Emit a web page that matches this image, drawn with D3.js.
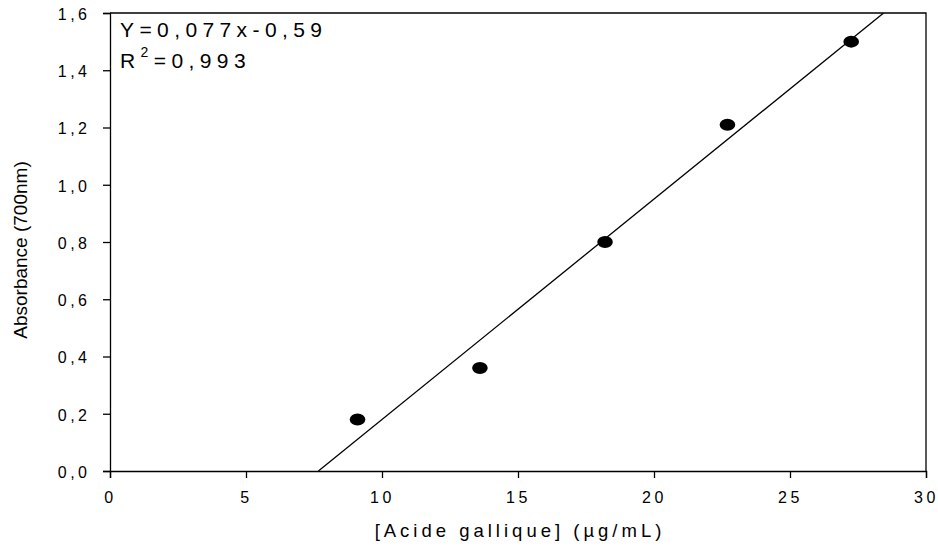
<!DOCTYPE html>
<html>
<head>
<meta charset="utf-8">
<script src="https://cdn.jsdelivr.net/npm/d3@7"></script>
<style>
  body { margin: 0; background: #fff; }
  text { font-family: "Liberation Sans", Arial, sans-serif; fill: #000; }
</style>
</head>
<body>
<svg width="938" height="552"></svg>
<script>
// data
var concentrations = [9.1, 13.6, 18.2, 22.7, 27.25];
var absorbances = [0.18, 0.36, 0.80, 1.21, 1.50];
var slope = 0.077, intercept = -0.59;
var xTicks = [0, 5, 10, 15, 20, 25, 30];
var yTicks = [0, 0.2, 0.4, 0.6, 0.8, 1.0, 1.2, 1.4, 1.6];

var margin = { left: 110, top: 13, right: 12, bottom: 81 };
var width = 938, height = 552;
var spacing = 3.5; // wide letter spacing of the original export

var svg = d3.select('svg');

var x = d3.scaleLinear().domain([0, 30]).range([margin.left, width - margin.right]);
var y = d3.scaleLinear().domain([0, 1.6]).range([height - margin.bottom, margin.top]);

var comma = function (d) { return d3.format('.1f')(d).replace('.', ','); };

// frame (top + right)
svg.append('path')
    .attr('d', 'M' + x(0) + ',' + y(1.6) + 'H' + x(30) + 'V' + y(0))
    .attr('fill', 'none')
    .attr('stroke', '#000')
    .attr('stroke-width', 1.3);

// x axis
var xAxis = svg.append('g')
    .attr('transform', 'translate(0,' + y(0) + ')')
    .call(d3.axisBottom(x).tickValues(xTicks).tickSize(7).tickPadding(14).tickFormat(d3.format('d')));

// y axis
var yAxis = svg.append('g')
    .attr('transform', 'translate(' + x(0) + ',0)')
    .call(d3.axisLeft(y).tickValues(yTicks).tickSize(7).tickPadding(16).tickFormat(comma));

[xAxis, yAxis].forEach(function (g) {
    g.select('.domain').attr('stroke', '#000').attr('stroke-width', 1.3);
    g.selectAll('.tick line').attr('stroke', '#000').attr('stroke-width', 1.3);
    g.selectAll('.tick text')
        .style('font-family', '"Liberation Sans", Arial, sans-serif')
        .style('font-size', '16px')
        .style('letter-spacing', spacing + 'px')
        .attr('fill', '#000');
});
yAxis.selectAll('.tick text').attr('dx', spacing).attr('dy', '0.4em');

// regression line, clipped to the plot area
svg.append('clipPath').attr('id', 'plot')
    .append('rect')
    .attr('x', x(0)).attr('y', y(1.6))
    .attr('width', x(30) - x(0)).attr('height', y(0) - y(1.6));

var x0 = -intercept / slope, x1 = (1.6 - intercept) / slope;
svg.append('line')
    .attr('clip-path', 'url(#plot)')
    .attr('x1', x(x0)).attr('y1', y(slope * x0 + intercept))
    .attr('x2', x(x1)).attr('y2', y(slope * x1 + intercept))
    .attr('stroke', '#000')
    .attr('stroke-width', 1.3);

// points
svg.selectAll('ellipse.pt')
    .data(concentrations)
    .enter()
    .append('ellipse')
    .attr('class', 'pt')
    .attr('cx', function (d) { return x(d); })
    .attr('cy', function (d, i) { return y(absorbances[i]); })
    .attr('rx', 7.8)
    .attr('ry', 6)
    .attr('fill', '#000');

// equation
svg.append('text')
    .attr('x', 120).attr('y', 37)
    .style('font-size', '21px')
    .style('letter-spacing', '5.4px')
    .text('Y=0,077x-0,59');

var r2 = svg.append('text')
    .attr('x', 120).attr('y', 68)
    .style('font-size', '21px')
    .style('letter-spacing', '5.4px');
r2.append('tspan').text('R');
r2.append('tspan').attr('dy', -11).style('font-size', '14px').text('2');
r2.append('tspan').attr('dy', 11).text('=0,993');

// axis titles
svg.append('text')
    .attr('x', (x(0) + x(30)) / 2 + 2).attr('y', 537)
    .attr('text-anchor', 'middle')
    .style('font-size', '18.5px')
    .style('letter-spacing', '4px')
    .text('[Acide gallique] (µg/mL)');

svg.append('text')
    .attr('transform', 'translate(27,250) rotate(-90)')
    .attr('text-anchor', 'middle')
    .style('font-size', '19px')
    .text('Absorbance (700nm)');
</script>
</body>
</html>
